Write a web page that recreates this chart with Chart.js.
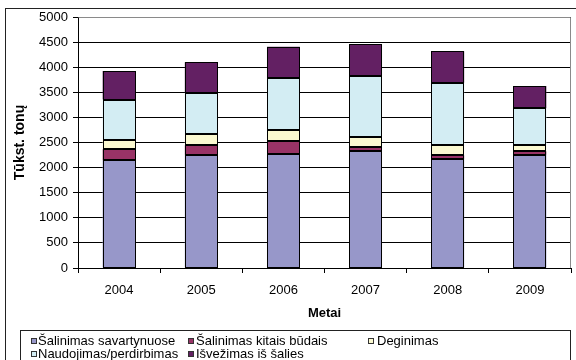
<!DOCTYPE html>
<html>
<head>
<meta charset="utf-8">
<script src="https://cdn.jsdelivr.net/npm/chart.js@4/dist/chart.umd.min.js"></script>
<style>
  html, body { margin: 0; padding: 0; background: #fff; }
  #wrap { width: 576px; height: 360px; }
</style>
</head>
<body>
<div id="wrap"><canvas id="c" width="576" height="360"></canvas></div>
<script>
// ---- data ----
const years = ['2004', '2005', '2006', '2007', '2008', '2009'];
const landfill = [2145, 2257, 2277, 2331, 2171, 2257];      // Šalinimas savartynuose
const otherDisposal = [220, 187, 246, 85, 74, 68];           // Šalinimas kitais būdais
const incineration = [190, 219, 226, 194, 199, 119];         // Deginimas
const recycling = [800, 823, 1029, 1215, 1248, 737];         // Naudojimas/perdirbimas
const exported = [570, 611, 630, 637, 624, 444];             // Išvežimas iš šalies
const seriesNames = ['Šalinimas savartynuose', 'Šalinimas kitais būdais', 'Deginimas', 'Naudojimas/perdirbimas', 'Išvežimas iš šalies'];
const seriesColors = ['#9797C9', '#993366', '#FBF9D0', '#D3EDF3', '#632063'];
const yTicks = [0, 500, 1000, 1500, 2000, 2500, 3000, 3500, 4000, 4500, 5000];
const xTitle = 'Metai';
const yTitle = 'Tūkst. tonų';

const FONT = 'Liberation Sans';
const seriesValues = [landfill, otherDisposal, incineration, recycling, exported];

const frame = {
  id: 'frame',
  beforeDraw(chart) {
    const ctx = chart.ctx;
    ctx.save();
    ctx.fillStyle = '#fff';
    ctx.fillRect(0, 0, chart.width, chart.height);
    ctx.strokeStyle = '#222';
    ctx.lineWidth = 1;
    ctx.strokeRect(5.5, 8.5, 700, 500);
    ctx.restore();
  },
  beforeDatasetsDraw(chart) {
    const {ctx, chartArea: a} = chart;
    ctx.save();
    ctx.strokeStyle = '#8a8a8a';
    ctx.lineWidth = 1;
    ctx.beginPath();
    ctx.moveTo(Math.round(a.left) + 0.5, Math.round(a.top) + 0.5);
    ctx.lineTo(Math.round(a.right) - 0.5, Math.round(a.top) + 0.5);
    ctx.lineTo(Math.round(a.right) - 0.5, Math.round(a.bottom));
    ctx.stroke();
    ctx.restore();
  },
  afterDatasetsDraw(chart) {
    const ctx = chart.ctx;
    ctx.save();
    ctx.strokeStyle = '#000';
    ctx.lineWidth = 1;
    chart.data.datasets.forEach((ds, i) => {
      const meta = chart.getDatasetMeta(i);
      meta.data.forEach(el => {
        const l = Math.round(el.x - el.width / 2) + 0.5;
        const r = Math.round(el.x + el.width / 2) - 0.5;
        const t = Math.round(Math.min(el.y, el.base)) + 0.5;
        const b = Math.round(Math.max(el.y, el.base)) - 0.5;
        ctx.strokeRect(l, t, r - l, b - t);
      });
    });
    ctx.restore();
  },
  afterDraw(chart) {
    const ctx = chart.ctx;
    ctx.save();
    ctx.strokeStyle = '#222';
    ctx.lineWidth = 1;
    ctx.strokeRect(20.5, 330.5, 550, 60);
    const pos = [
      {sx: 31, tx: 38, base: 345},
      {sx: 188, tx: 196, base: 345},
      {sx: 368, tx: 377, base: 345},
      {sx: 31, tx: 38, base: 358},
      {sx: 188, tx: 196, base: 358}
    ];
    ctx.font = '13px "' + FONT + '"';
    ctx.textBaseline = 'alphabetic';
    ctx.textAlign = 'left';
    chart.data.datasets.forEach((ds, i) => {
      const p = pos[i];
      ctx.fillStyle = ds.backgroundColor;
      ctx.fillRect(p.sx, p.base - 7, 6, 6);
      ctx.strokeStyle = '#333';
      ctx.strokeRect(p.sx + 0.5, p.base - 6.5, 5, 5);
      ctx.fillStyle = '#000';
      ctx.fillText(ds.label, p.tx, p.base);
    });
    ctx.restore();
  }
};

new Chart(document.getElementById('c'), {
  type: 'bar',
  data: {
    labels: years,
    datasets: seriesNames.map((name, i) => ({
      label: name,
      data: seriesValues[i],
      backgroundColor: seriesColors[i],
      borderWidth: 0,
      inflateAmount: 0,
      barPercentage: 0.4,
      categoryPercentage: 1.0
    }))
  },
  options: {
    responsive: false,
    animation: false,
    devicePixelRatio: 1,
    layout: { padding: { top: 17, right: 5, bottom: 0, left: 0 } },
    plugins: { legend: { display: false }, tooltip: { enabled: false } },
    scales: {
      x: {
        stacked: true,
        offset: true,
        grid: { display: true, offset: true, drawOnChartArea: false, tickLength: 5, color: '#000', tickColor: '#000' },
        border: { display: true, color: '#000' },
        ticks: { color: '#000', font: { family: FONT, size: 13 }, padding: 10, maxRotation: 0 },
        title: { display: true, text: xTitle, color: '#000', font: { family: FONT, size: 13, weight: 'bold' }, padding: { top: 0, bottom: 39 } },
        afterFit(scale) { scale.height = 92; }
      },
      y: {
        stacked: true,
        min: 0,
        max: 5000,
        afterBuildTicks(scale) { scale.ticks = yTicks.map(v => ({ value: v })); },
        grid: { color: '#000', tickLength: 5, tickColor: '#000' },
        border: { display: true, color: '#000' },
        ticks: { color: '#000', font: { family: FONT, size: 13 }, padding: 5, callback: v => String(v) },
        title: { display: true, text: yTitle, color: '#000', font: { family: FONT, size: 14, weight: 'bold' }, padding: { top: 12, bottom: 0 } },
        afterFit(scale) { scale.width = 78; }
      }
    }
  },
  plugins: [frame]
});
</script>
</body>
</html>
